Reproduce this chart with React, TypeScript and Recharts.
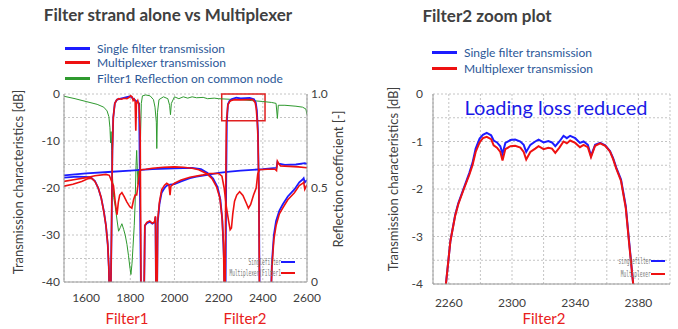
import { ComposedChart, Line, XAxis, YAxis, CartesianGrid, ReferenceArea } from "recharts";

const FONT = "Lato, 'Open Sans', sans-serif";
const TEXT = "#404040";
const LEGEND_TEXT = "#2b5797";
const BLUE = "#1c1cff";
const RED = "#ee1111";
const GREEN = "#2f9a2f";
const GRID = "#c4c4c4";
const FRAME = "#9a9a9a";

// left plot: frequency [MHz] vs dB / reflection
const reflection: [number, number][] = [
  [1500, 0.988], [1550, 0.975], [1600, 0.96], [1650, 0.945], [1680, 0.93], [1695, 0.91],
  [1703, 0.88], [1708, 0.82], [1711, 0.74], [1713, 0.8], [1716, 0.7], [1720, 0.55],
  [1725, 0.45], [1732, 0.4], [1740, 0.33], [1747, 0.27], [1755, 0.29], [1762, 0.31],
  [1770, 0.28], [1777, 0.25], [1785, 0.2], [1792, 0.14], [1798, 0.08], [1803, 0.04],
  [1808, 0.1], [1812, 0.18], [1818, 0.3], [1822, 0.42], [1826, 0.62], [1829, 0.7],
  [1832, 0.6], [1835, 0.52], [1838, 0.6], [1842, 0.55], [1846, 0.75], [1850, 0.95],
  [1855, 0.99], [1870, 0.995], [1890, 0.99], [1905, 0.97], [1912, 0.93], [1918, 0.85],
  [1920, 0.71], [1923, 0.9], [1930, 0.97], [1950, 0.985], [1970, 0.975], [1978, 0.94],
  [1982, 0.89], [1986, 0.95], [2000, 0.985], [2020, 0.975], [2040, 0.985], [2060, 0.978],
  [2080, 0.985], [2100, 0.98], [2130, 0.982], [2150, 0.975], [2180, 0.978], [2200, 0.975],
  [2250, 0.972], [2300, 0.97], [2350, 0.965], [2400, 0.96], [2440, 0.955], [2460, 0.95],
  [2466, 0.87], [2470, 0.94], [2500, 0.94], [2550, 0.935], [2580, 0.93], [2595, 0.92],
  [2600, 0.89],
];

const singleF1: [number, number][] = [
  [1500, -17.8], [1560, -17.6], [1620, -17.7], [1640, -18.5], [1655, -20], [1668, -22],
  [1680, -24.8], [1690, -28], [1698, -32], [1703, -37], [1706, -45], [1711, -45],
  [1715, -30], [1719, -12], [1723, -5], [1730, -2], [1740, -1.2], [1800, -0.5],
  [1840, -2], [1849, -45], [1862, -45], [1866, -28], [1875, -27.5], [1888, -27.2],
  [1900, -27.6], [1910, -27.3], [1914, -26.2], [1917, -45], [1921, -45], [1924, -27.5],
  [1932, -23.5], [1942, -21], [1955, -20], [1965, -19.5], [1980, -19.3], [2000, -19.2],
  [2030, -18.6], [2070, -17.9], [2100, -17.6], [2150, -17.2], [2200, -16.8], [2250, -16.5],
  [2300, -16.3], [2400, -16], [2462, -15.7], [2466, -14.5], [2472, -14.8], [2500, -15.1],
  [2550, -15], [2590, -14.7], [2600, -14.9],
];

const singleF2: [number, number][] = [
  [1500, -17.3], [1600, -16.9], [1700, -16.6], [1800, -16.3], [1900, -16.0], [2000, -15.8],
  [2080, -15.7], [2120, -16.0], [2150, -16.8], [2175, -18], [2195, -19.8], [2208, -22.5],
  [2217, -27], [2224, -35], [2228, -45], [2231, -45], [2234, -20], [2237, -6],
  [2242, -2.2], [2250, -1.4], [2260, -1.1], [2280, -0.8], [2300, -0.95], [2340, -0.85],
  [2360, -1.1], [2368, -1.8], [2373, -3.5], [2378, -8], [2382, -20], [2386, -45],
  [2436, -45], [2441, -36], [2450, -30], [2460, -27], [2475, -24.8], [2490, -23.5],
  [2513, -21.8], [2543, -20.3], [2565, -18.8], [2580, -18.2], [2585, -17.9], [2590, -18.8],
  [2600, -18.3],
];

const muxF1: [number, number][] = [
  [1500, -19.6], [1540, -19.2], [1580, -18.6], [1610, -18], [1625, -17.9], [1640, -18.6],
  [1655, -20], [1668, -22], [1680, -25], [1690, -28], [1698, -32], [1703, -37],
  [1706, -45], [1711, -45], [1715, -30], [1719, -12], [1723, -5], [1730, -2],
  [1738, -1.3], [1748, -1], [1760, -1.1], [1772, -0.9], [1785, -1], [1795, -0.7],
  [1802, -0.4], [1808, -0.6], [1813, -1.4], [1818, -1.1], [1822, -1.6], [1825, -7.8],
  [1828, -2], [1834, -1.4], [1840, -2.5], [1845, -8], [1849, -45], [1862, -45],
  [1866, -28], [1875, -27.3], [1888, -27], [1900, -27.5], [1910, -27.2], [1914, -26],
  [1917, -45], [1921, -45], [1924, -27], [1932, -23], [1942, -20.4], [1955, -19.4],
  [1965, -19], [1975, -19.3], [1980, -21.5], [1984, -19.6], [2000, -19], [2030, -18.3],
  [2070, -17.7], [2130, -17.2], [2160, -16.9], [2200, -16.9], [2215, -17.5], [2225, -20],
  [2235, -24], [2245, -27], [2252, -28.9], [2258, -28.5], [2264, -25.5], [2272, -22.8],
  [2282, -21.5], [2295, -20.8], [2310, -21.6], [2325, -23.2], [2335, -24.3], [2345, -23.5],
  [2358, -21.5], [2370, -20], [2377, -17], [2385, -16.1], [2420, -16], [2455, -16],
  [2462, -16.3], [2466, -14.3], [2472, -14.8], [2480, -15.3], [2520, -15.4], [2560, -15.5],
  [2600, -15.7],
];

const muxF2: [number, number][] = [
  [1500, -18.6], [1550, -18.2], [1600, -17.8], [1640, -17.4], [1690, -17.1], [1705, -17.3],
  [1715, -18.5], [1724, -19.5], [1732, -23], [1740, -25.7], [1746, -23], [1752, -21.5],
  [1762, -21], [1772, -21.8], [1785, -23], [1798, -24], [1807, -24.3], [1815, -22.5],
  [1822, -21.5], [1829, -21.5], [1836, -19], [1842, -16.5], [1850, -16.1], [1870, -16],
  [1900, -15.8], [1950, -15.6], [2000, -15.5], [2040, -15.6], [2080, -15.8], [2110, -16.1],
  [2145, -16.9], [2170, -18], [2190, -19.7], [2205, -22], [2215, -26], [2222, -32],
  [2226, -45], [2229, -45], [2232, -20], [2235, -6], [2242, -2.3], [2250, -1.6],
  [2257, -1.4], [2273, -1.2], [2300, -1.25], [2330, -1.2], [2355, -1.2], [2365, -1.8],
  [2370, -3], [2375, -6], [2378, -9.4], [2382, -20], [2385, -45], [2436, -45],
  [2441, -37], [2450, -31], [2460, -28], [2475, -25.5], [2490, -24.3], [2513, -22.5],
  [2543, -21], [2565, -19.5], [2580, -19], [2585, -18.8], [2590, -20.3], [2600, -19.3],
];

// right plot: filter2 passband zoom
const zoomFreq = [
  2257.5, 2258.5, 2261, 2264, 2266, 2269.5, 2273, 2275, 2277, 2279.5, 2281.6, 2284,
  2286.8, 2288.4, 2290.5, 2292.6, 2294, 2295.8, 2299, 2302, 2305.3, 2307.4, 2309, 2311.6,
  2314.7, 2316.8, 2320, 2323, 2325.3, 2327.4, 2330, 2332.6, 2334.7, 2336.8, 2340, 2343,
  2345.3, 2348, 2350, 2352.6, 2355.8, 2359, 2362, 2364, 2366, 2369, 2372, 2374,
  2376.7, 2377.5,
];
const zoomSingle = [
  -4.2, -3.9, -3.1, -2.55, -2.3, -1.98, -1.66, -1.45, -1.15, -0.94, -0.86, -0.82,
  -0.87, -0.98, -1.02, -1.1, -1.26, -1.03, -0.97, -0.96, -1.0, -1.07, -1.22, -1.07,
  -1.0, -0.96, -1.02, -0.99, -1.02, -1.1, -1.0, -0.88, -0.93, -0.88, -0.93, -1.03,
  -1.0, -1.07, -1.3, -1.07, -1.03, -1.08, -1.2, -1.35, -1.55, -1.8, -2.36, -3.06,
  -4.0, -4.3,
];
const zoomMux = [
  -4.2, -3.9, -3.1, -2.57, -2.32, -2.0, -1.7, -1.5, -1.22, -1.02, -0.93, -0.9,
  -0.95, -1.08, -1.13, -1.22, -1.4, -1.16, -1.1, -1.09, -1.13, -1.22, -1.38, -1.22,
  -1.15, -1.1, -1.16, -1.13, -1.15, -1.24, -1.13, -1.0, -1.04, -0.98, -1.03, -1.12,
  -1.07, -1.12, -1.33, -1.09, -1.04, -1.09, -1.21, -1.37, -1.57, -1.83, -2.4, -3.1,
  -4.0, -4.3,
];

const leftXTicks = [1600, 1800, 2000, 2200, 2400, 2600];
const leftDbTicks = [-40, -35, -30, -25, -20, -15, -10, -5, 0];
const reflTicks = [0, 0.125, 0.25, 0.375, 0.5, 0.625, 0.75, 0.875, 1];
const zoomXTicks = [2260, 2280, 2300, 2320, 2340, 2360, 2380];
const zoomDbTicks = [-4, -3.5, -3, -2.5, -2, -1.5, -1, -0.5, 0];

const toPts = (arr: [number, number][]) => arr.map(([x, y]) => ({ x, y }));
const zoomPts = (ys: number[]) => zoomFreq.map((x, i) => ({ x, y: ys[i] }));

const tickStyle = { fill: TEXT, fontSize: 12, fontFamily: FONT };

function LegendRow({ color, label, top, left }: { color: string; label: string; top: number; left: number }) {
  return (
    <div style={{ position: "absolute", top: top - 8, left, height: 16, display: "flex", alignItems: "center" }}>
      <div style={{ width: 25, height: 3, background: color }} />
      <span style={{ marginLeft: 7, fontSize: 12, color: LEGEND_TEXT, fontFamily: FONT, whiteSpace: "nowrap" }}>
        {label}
      </span>
    </div>
  );
}

function TinyLegend({ color, label, top, right }: { color: string; label: string; top: number; right: number }) {
  return (
    <div style={{ position: "absolute", top: top - 5, right, height: 10, display: "flex", alignItems: "center" }}>
      <span
        style={{
          fontSize: 9,
          fontFamily: "'DejaVu Sans Mono', monospace",
          color: "#777",
          transform: "scaleX(0.5)",
          transformOrigin: "right center",
          whiteSpace: "nowrap",
        }}
      >
        {label}
      </span>
      <div style={{ width: 14, height: 1.5, background: color }} />
    </div>
  );
}

function VLabel({ text, cx, cy }: { text: string; cx: number; cy: number }) {
  return (
    <div
      style={{
        position: "absolute",
        left: cx,
        top: cy,
        transform: "translate(-50%, -50%) rotate(-90deg)",
        fontSize: 13,
        color: TEXT,
        fontFamily: FONT,
        whiteSpace: "nowrap",
      }}
    >
      {text}
    </div>
  );
}

function Centered({ text, cx, cy, style }: { text: string; cx: number; cy: number; style: React.CSSProperties }) {
  return (
    <div
      style={{
        position: "absolute",
        left: cx,
        top: cy,
        transform: "translate(-50%, -50%)",
        fontFamily: FONT,
        whiteSpace: "nowrap",
        ...style,
      }}
    >
      {text}
    </div>
  );
}

function OverviewChart() {
  const lineProps = { dataKey: "y", dot: false, isAnimationActive: false, yAxisId: "db" } as const;
  return (
    <ComposedChart width={350} height={329} margin={{ top: 94, right: 13, bottom: 17, left: 24 }}>
      <CartesianGrid yAxisId="refl" stroke={GRID} strokeDasharray="2 2" />
      <XAxis
        dataKey="x"
        type="number"
        domain={[1500, 2600]}
        ticks={leftXTicks}
        allowDataOverflow
        stroke={FRAME}
        tickLine={false}
        tickSize={0}
        tickMargin={11}
        tick={tickStyle}
        height={30}
      />
      <XAxis xAxisId="top" orientation="top" type="number" domain={[1500, 2600]} tick={false} tickLine={false} height={0} stroke={FRAME} />
      <YAxis
        yAxisId="db"
        type="number"
        domain={[-40, 0]}
        ticks={leftDbTicks}
        tickFormatter={(v: number) => (v % 10 === 0 ? String(v) : "")}
        allowDataOverflow
        stroke={FRAME}
        tickLine={false}
        tickSize={0}
        tickMargin={4}
        tick={tickStyle}
        width={40}
      />
      <YAxis
        yAxisId="refl"
        orientation="right"
        type="number"
        domain={[0, 1]}
        ticks={reflTicks}
        tickFormatter={(v: number) => (v === 0 ? "0" : v === 0.5 || v === 1 ? v.toFixed(1) : "")}
        allowDataOverflow
        stroke={FRAME}
        tickLine={false}
        tickSize={0}
        tickMargin={4}
        tick={tickStyle}
        width={30}
      />
      <Line data={toPts(reflection)} dataKey="y" yAxisId="refl" stroke={GREEN} strokeWidth={1} dot={false} isAnimationActive={false} />
      <Line data={toPts(singleF2)} {...lineProps} stroke={BLUE} strokeWidth={1.8} />
      <Line data={toPts(singleF1)} {...lineProps} stroke={BLUE} strokeWidth={1.8} />
      <Line data={toPts(muxF2)} {...lineProps} stroke={RED} strokeWidth={1.6} />
      <Line data={toPts(muxF1)} {...lineProps} stroke={RED} strokeWidth={1.6} />
      <ReferenceArea yAxisId="db" x1={2214} x2={2410} y1={-5.7} y2={0} fill="none" stroke="#e02020" strokeWidth={1.5} ifOverflow="visible" />
    </ComposedChart>
  );
}

function ZoomChart() {
  return (
    <ComposedChart width={298} height={329} margin={{ top: 94, right: 8, bottom: 15, left: 13 }}>
      <CartesianGrid stroke={GRID} strokeDasharray="2 2" />
      <XAxis
        dataKey="x"
        type="number"
        domain={[2250, 2400]}
        ticks={zoomXTicks}
        tickFormatter={(v: number) => ((v - 2260) % 40 === 0 ? String(v) : "")}
        allowDataOverflow
        stroke={FRAME}
        tickLine={false}
        tickSize={0}
        tickMargin={14}
        tick={tickStyle}
        height={30}
      />
      <XAxis xAxisId="top" orientation="top" type="number" domain={[2250, 2400]} tick={false} tickLine={false} height={0} stroke={FRAME} />
      <YAxis
        type="number"
        domain={[-4, 0]}
        ticks={zoomDbTicks}
        tickFormatter={(v: number) => (Number.isInteger(v) ? String(v) : "")}
        allowDataOverflow
        stroke={FRAME}
        tickLine={false}
        tickSize={0}
        tickMargin={10}
        tick={tickStyle}
        width={40}
      />
      <YAxis yAxisId="edge" orientation="right" type="number" domain={[0, 1]} tick={false} tickLine={false} width={0} stroke={FRAME} />
      <Line data={zoomPts(zoomSingle)} dataKey="y" stroke={BLUE} strokeWidth={2} dot={false} isAnimationActive={false} />
      <Line data={zoomPts(zoomMux)} dataKey="y" stroke={RED} strokeWidth={2} dot={false} isAnimationActive={false} />
    </ComposedChart>
  );
}

export default function App() {
  return (
    <div style={{ position: "fixed", left: 0, top: 0, width: 678, height: 329, background: "#fff", overflow: "hidden" }}>
      <div style={{ position: "absolute", left: 0, top: 0 }}>
        <OverviewChart />
      </div>
      <div style={{ position: "absolute", left: 380, top: 0 }}>
        <ZoomChart />
      </div>

      <Centered text="Filter strand alone vs Multiplexer" cx={168} cy={14} style={{ fontSize: 17, fontWeight: 700, color: TEXT }} />
      <Centered text="Filter2 zoom plot" cx={487} cy={15} style={{ fontSize: 17, fontWeight: 700, color: TEXT }} />

      <LegendRow color={BLUE} label="Single filter transmission" top={48} left={65} />
      <LegendRow color={RED} label="Multiplexer transmission" top={62} left={65} />
      <LegendRow color={GREEN} label="Filter1 Reflection on common node" top={78} left={65} />
      <LegendRow color={BLUE} label="Single filter transmission" top={52} left={432} />
      <LegendRow color={RED} label="Multiplexer transmission" top={68} left={432} />

      <VLabel text="Transmission characteristics [dB]" cx={18} cy={182} />
      <VLabel text="Reflection coefficient [-]" cx={338} cy={179} />
      <VLabel text="Transmission characteristics [dB]" cx={393} cy={179} />

      <Centered text="Loading loss reduced" cx={556} cy={107} style={{ fontSize: 20, color: "#1a1ae6" }} />

      <TinyLegend color={BLUE} label="Singlefilter" top={262} right={678 - 295} />
      <TinyLegend color={RED} label="Multiplexer(Filter1" top={273} right={678 - 295} />
      <TinyLegend color={BLUE} label="singlefilter" top={261} right={678 - 665} />
      <TinyLegend color={RED} label="Multiplexer" top={274} right={678 - 665} />

      <Centered text="Filter1" cx={127} cy={318} style={{ fontSize: 15, color: "#e8201c" }} />
      <Centered text="Filter2" cx={245} cy={318} style={{ fontSize: 15, color: "#e8201c" }} />
      <Centered text="Filter2" cx={544} cy={318} style={{ fontSize: 15, color: "#e8201c" }} />
    </div>
  );
}
